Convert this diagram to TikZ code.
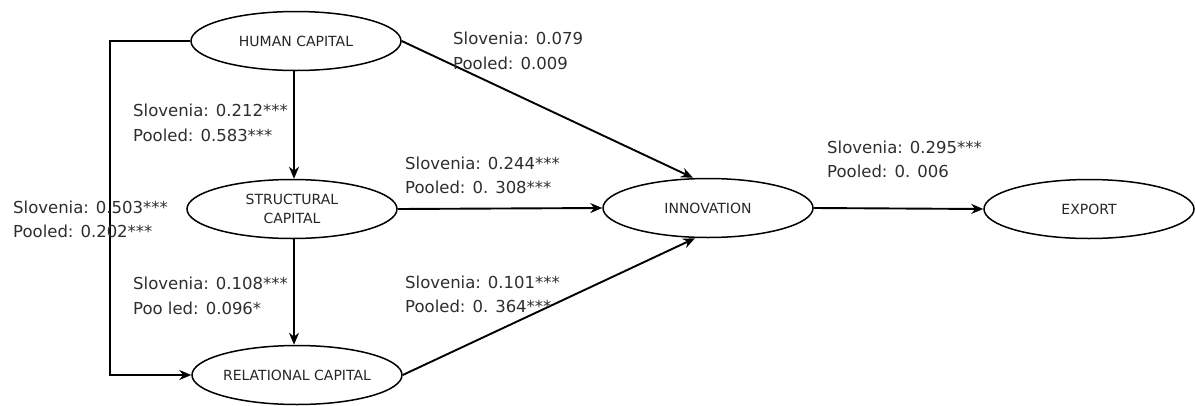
\documentclass[tikz,border=0pt]{standalone}
\usepackage{fontspec}
\setmainfont{DejaVu Sans}
\usetikzlibrary{shapes.geometric,arrows.meta,calc}
\begin{document}
\begin{tikzpicture}[x=1pt,y=-1pt,
  ell/.style={draw, ellipse, line width=1.5pt, minimum width=210pt, minimum height=59pt, inner sep=0pt},
  ntext/.style={font=\fontsize{14}{19}\selectfont, text=black!85, align=center, inner sep=0pt},
  lab/.style={anchor=west, inner sep=0pt, align=left, font=\fontsize{16.5}{24.5}\selectfont, text=black!82},
  arr/.style={line width=1.9pt, -{Stealth[length=12pt,width=10pt]}}]
\useasboundingbox (0,0) rectangle (1195,405);
% ellipses
\node[ell, label={[ntext]center:HUMAN CAPITAL}] (HC) at (296,41) {};
\node[ell, label={[ntext]center:STRUCTURAL\\CAPITAL}] (SC) at (292,209) {};
\node[ell, label={[ntext]center:RELATIONAL CAPITAL}] (RC) at (297,375) {};
\node[ell, label={[ntext]center:INNOVATION}] (INN) at (708,208) {};
\node[ell, label={[ntext]center:EXPORT}] (EXP) at (1089,209) {};
\coordinate (vx) at (294,0);
% connectors
\draw[arr] (HC.south -| vx) -- (SC.north -| vx);
\draw[arr] (SC.south -| vx) -- (RC.north -| vx);
\draw[arr] (HC.west) -- ++(-80,0) |- (RC.west);
\draw[arr] (HC.east) -- ([xshift=-15pt]INN.north);
\draw[arr] (SC.east) -- (INN.west);
\draw[arr] (RC.east) -- ([xshift=-13pt]INN.south);
\draw[arr] (INN.east) -- (EXP.west);
% labels
\node[lab] (l1) at (453,51) {Slovenia: 0.079\\Pooled: 0.009};
\node[lab] (l2) at (133,123) {Slovenia: 0.212***\\Pooled: 0.583***};
\node[lab] (l3) at (405,175.5) {Slovenia: 0.244***\\Pooled: 0. 308***};
\node[lab] (l4) at (13,219.5) {Slovenia: 0.503***\\Pooled: 0.202***};
\node[lab] (l5) at (133,296) {Slovenia: 0.108***\\Poo led: 0.096*};
\node[lab] (l6) at (405,294.5) {Slovenia: 0.101***\\Pooled: 0. 364***};
\node[lab] (l7) at (827,159.5) {Slovenia: 0.295***\\Pooled: 0. 006};
\end{tikzpicture}
\end{document}
